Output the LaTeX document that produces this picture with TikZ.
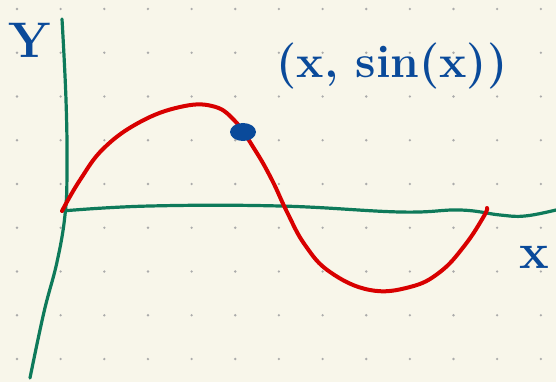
\documentclass[tikz,border=0pt]{standalone}
\usepackage{tikz}
\usetikzlibrary{positioning}

\definecolor{paper}{HTML}{F8F6EA}
\definecolor{griddot}{HTML}{ABABAB}
\definecolor{inkgreen}{HTML}{0E7A5A}
\definecolor{inkred}{HTML}{D80000}
\definecolor{inkblue}{HTML}{0A4A9A}

\tikzset{
    axisline/.style={inkgreen, line width=3.2pt, line cap=round, line join=round},
    curveline/.style={inkred, line width=4pt, line cap=round, line join=round},
    handtext/.style={inkblue, font=\bfseries\fontsize{36}{36}\selectfont, inner sep=0pt}
}

\begin{document}
\begin{tikzpicture}[x=1pt, y=-1pt]
    % paper and dot grid
    \fill[paper] (0,0) rectangle (556,382);
    \useasboundingbox (0,0) rectangle (556,382);
    \foreach \i in {0,...,12}
        \foreach \j in {0,...,8}
            \fill[griddot] (17+\i*43.65, 9+\j*43.75) circle (1.3);

    % axes
    \draw[axisline] plot[smooth, tension=0.7] coordinates
        {(62,19) (66,100) (67,170) (65,215) (57,262) (44,312) (30,378)};
    \draw[axisline] plot[smooth, tension=0.7] coordinates
        {(62,211) (150,206) (280,206) (400,212) (460,210) (500,215) (525,216) (556,210)};

    % the curve
    \draw[curveline] plot[smooth, tension=0.7] coordinates
        {(62,211) (80,180) (104,148) (140,122) (180,107) (212,106) (234,120)
         (255,150) (272,180) (287,212) (305,245) (330,272) (370,290) (410,287)
         (440,272) (465,245) (484,216) (487,208)};

    % point on the curve
    \fill[inkblue] (243,132) ellipse (13 and 9);

    % labels
    \node[handtext, font=\bfseries\fontsize{50}{50}\selectfont] (ylab) at (30,40) {Y};
    \node[handtext, font=\bfseries\fontsize{50}{50}\selectfont] (xlab) at (534,257) {x};
    \node[handtext, font=\bfseries\fontsize{46}{46}\selectfont] (pt) at (392,66) {(x, sin(x))};
\end{tikzpicture}
\end{document}
